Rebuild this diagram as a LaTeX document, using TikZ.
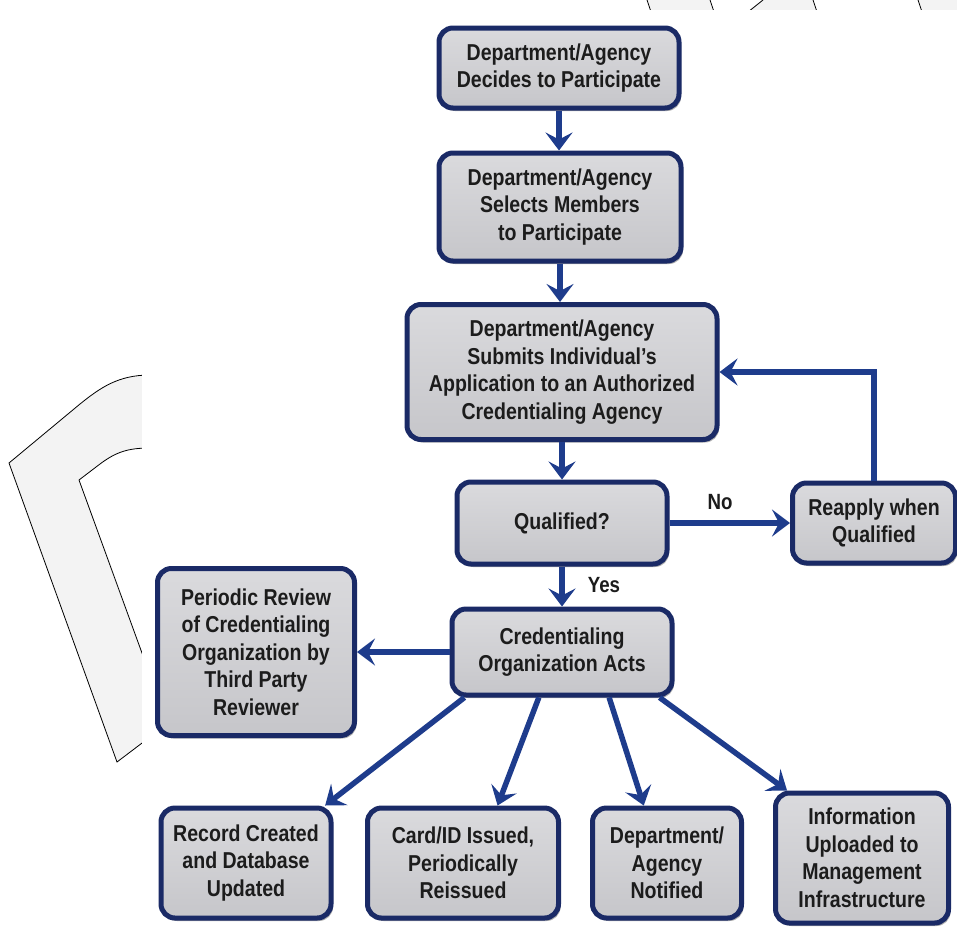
\documentclass[tikz,border=0pt]{standalone}
\usepackage{fontspec}
\setmainfont{Liberation Sans}[FakeStretch=0.85]
\usetikzlibrary{arrows.meta,shadows}

\definecolor{navy}{HTML}{1A2A66}
\definecolor{flowblue}{HTML}{1E3C8C}
\definecolor{boxtop}{HTML}{DADADD}
\definecolor{boxbottom}{HTML}{C6C6CA}
\definecolor{backdrop}{HTML}{F3F3F3}
\definecolor{ink}{HTML}{1C1C1C}

\tikzset{
  stepbox/.style={draw=navy, line width=5pt, rounded corners=14pt,
    top color=boxtop, bottom color=boxbottom, text=ink,
    font=\fontsize{23}{27.5}\selectfont\bfseries, align=center,
    inner sep=0pt,
    drop shadow={shadow xshift=2pt, shadow yshift=-3pt, opacity=0.3, fill=black}},
  flow/.style={draw=flowblue, line width=5.5pt,
    -{Stealth[length=18pt, width=27pt, inset=7pt]}},
  edgelabel/.style={text=ink, font=\fontsize{22}{26}\selectfont\bfseries},
  outline/.style={draw=black, line width=0.8pt}
}

\begin{document}
\begin{tikzpicture}[x=1pt, y=-1pt]
\useasboundingbox (0,0) rectangle (957,926);

% light backdrop shapes partly hidden behind the chart panel
\fill[backdrop] (150,375) .. controls (118,375) and (100,388) .. (80,404)
  -- (9,463) -- (117,762) -- (150,737) -- (150,675) -- (79,480)
  -- (100,464) .. controls (116,452) and (128,448) .. (150,448) -- cycle;
\draw[outline] (150,375) .. controls (118,375) and (100,388) .. (80,404)
  -- (9,463) -- (117,762) -- (150,737);
\draw[outline] (150,675) -- (79,480)
  -- (100,464) .. controls (116,452) and (128,448) .. (150,448);

\fill[backdrop] (647,0) -- (651,12) -- (714,12) -- (710,0) -- cycle;
\fill[backdrop] (763,0) -- (748,12) -- (817,12) -- (813,0) -- cycle;
\fill[backdrop] (918,0) -- (922,12) -- (957,12) -- (957,0) -- cycle;
\draw[outline] (647,0) -- (651,12);
\draw[outline] (710,0) -- (714,12);
\draw[outline] (763,0) -- (748,12);
\draw[outline] (813,0) -- (817,12);
\draw[outline] (918,0) -- (922,12);

% chart panel
\fill[white] (142,10) rectangle (957,926);

% process steps
\node[stepbox, minimum width=240pt, minimum height=80pt] (decide) at (559,68)
  {Department/Agency\\Decides to Participate};
\node[stepbox, minimum width=242pt, minimum height=108pt] (select) at (560,207)
  {Department/Agency\\Selects Members\\to Participate};
\node[stepbox, minimum width=310pt, minimum height=135pt] (submit) at (562,372)
  {Department/Agency\\Submits Individual's\\Application to an Authorized\\Credentialing Agency};
\node[stepbox, minimum width=210pt, minimum height=82pt] (qualified) at (562,523)
  {Qualified?};
\node[stepbox, minimum width=163pt, minimum height=80pt] (reapply) at (874,523)
  {Reapply when\\Qualified};
\node[stepbox, minimum width=220pt, minimum height=86pt] (acts) at (562,652)
  {Credentialing\\Organization Acts};
\node[stepbox, minimum width=197pt, minimum height=167pt] (review) at (256,652)
  {Periodic Review\\of Credentialing\\Organization by\\Third Party\\Reviewer};

% outcomes
\node[stepbox, minimum width=170pt, minimum height=110pt] (record) at (246,863)
  {Record Created\\and Database\\Updated};
\node[stepbox, minimum width=191pt, minimum height=110pt] (card) at (463,863)
  {Card/ID Issued,\\Periodically\\Reissued};
\node[stepbox, minimum width=149pt, minimum height=110pt] (notified) at (667,863)
  {Department/\\Agency\\Notified};
\node[stepbox, minimum width=173pt, minimum height=130pt] (upload) at (862,858)
  {Information\\Uploaded to\\Management\\Infrastructure};

% connectors
\draw[flow] (decide.south) -- (decide.south |- select.north);
\draw[flow] (select.south) -- (select.south |- submit.north);
\draw[flow] (submit.south) -- (submit.south |- qualified.north);
\draw[flow] (qualified.east) -- (reapply.west);
\draw[flow] (reapply.north) -- (reapply.north |- submit.east) -- (submit.east);
\draw[flow] (qualified.south) -- (qualified.south |- acts.north);
\draw[flow] (acts.west) -- (review.east);
\draw[flow] (acts.-155) -- (record.36);
\draw[flow] (acts.-117) -- (card.59);
\draw[flow] (acts.-44) -- (notified.112);
\draw[flow] (acts.-25) -- (upload.138);

% branch labels
\node[edgelabel] (nolabel) at (720,502) {No};
\node[edgelabel] (yeslabel) at (604,585) {Yes};
\end{tikzpicture}
\end{document}
